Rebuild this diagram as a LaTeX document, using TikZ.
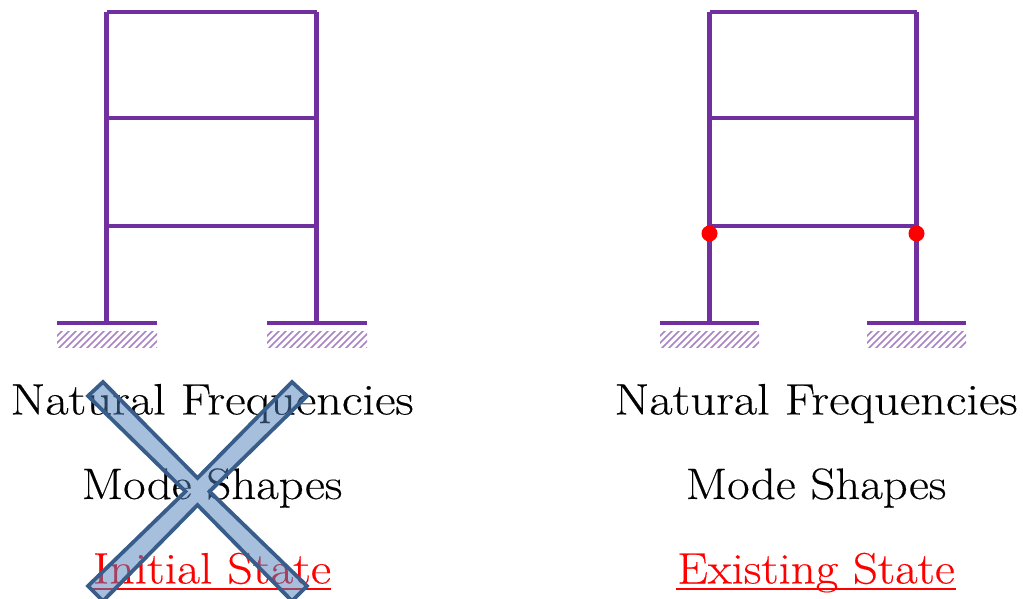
\documentclass[tikz,border=0pt]{standalone}
\usepackage{graphicx}
\usepackage{fontspec}
\setmainfont{Latin Modern Roman}
\definecolor{framepurple}{HTML}{7030A0}
\definecolor{xfill}{HTML}{4F81BD}
\definecolor{xline}{HTML}{385D8A}
\tikzset{
  member/.style={draw=framepurple,line width=4.2pt,line cap=butt},
  hatchline/.style={draw=framepurple!60,line width=1.7pt},
  label/.style={font=\fontsize{44}{50}\selectfont\addfontfeature{FakeBold=0.3},anchor=base,inner sep=0pt,text=black},
  redlabel/.style={label,text=red},
  hinge/.style={circle,fill=red,inner sep=0pt,minimum size=16pt},
  ruleline/.style={draw=red,line width=2pt},
}
\newcommand{\hatchbox}[2]{%
  \begin{scope}
    \clip (#1,331) rectangle (#2,347);
    \foreach \k in {0,7,...,130}{
      \draw[hatchline] ({#1-20+\k},349) -- ({#1+\k},329);
    }
  \end{scope}}
\newcommand{\frameat}[3]{%
  \coordinate (#3tl) at (#1,12);
  \coordinate (#3tr) at (#2,12);
  \coordinate (#3ml) at (#1,118);
  \coordinate (#3mr) at (#2,118);
  \coordinate (#3ll) at (#1,226);
  \coordinate (#3lr) at (#2,226);
  \coordinate (#3bl) at (#1,323);
  \coordinate (#3br) at (#2,323);
  \draw[member] (#3bl) -- (#3tl);
  \draw[member] (#3br) -- (#3tr);
  \draw[member] (#3tl) -- (#3tr);
  \draw[member] (#3ml) -- (#3mr);
  \draw[member] (#3ll) -- (#3lr);
}
\begin{document}
\begin{tikzpicture}[x=1pt,y=-1pt]
  \clip (0,0) rectangle (1023,598);
  \fill[white] (0,0) rectangle (1023,598);

  % Left frame
  \frameat{106.5}{316.5}{a}
  \coordinate (ag1a) at (57,323); \coordinate (ag1b) at (157,323);
  \coordinate (ag2a) at (267,323); \coordinate (ag2b) at (367,323);
  \draw[member] (ag1a) -- (ag1b);
  \draw[member] (ag2a) -- (ag2b);
  \hatchbox{57}{157}
  \hatchbox{267}{367}

  % Right frame
  \frameat{709.5}{916.5}{b}
  \coordinate (bg1a) at (660,323); \coordinate (bg1b) at (759,323);
  \coordinate (bg2a) at (867,323); \coordinate (bg2b) at (966,323);
  \draw[member] (bg1a) -- (bg1b);
  \draw[member] (bg2a) -- (bg2b);
  \hatchbox{660}{759}
  \hatchbox{867}{966}
  \node[hinge] (h1) at (709.5,233.5) {};
  \node[hinge] (h2) at (916.5,233.5) {};

  % Labels
  \node[label] (nf1) at (212,414.5) {\scalebox{1.145}[1]{Natural Frequencies}};
  \node[label] (ms1) at (212,499) {\scalebox{1.11}[1]{Mode Shapes}};
  \node[redlabel] (st1) at (212,583.5) {\scalebox{1.13}[1]{Initial State}};
  \node[label] (nf2) at (816,414.5) {\scalebox{1.145}[1]{Natural Frequencies}};
  \node[label] (ms2) at (816,499) {\scalebox{1.11}[1]{Mode Shapes}};
  \node[redlabel] (st2) at (816,583.5) {\scalebox{1.11}[1]{Existing State}};
  \coordinate (u1a) at (93,589); \coordinate (u1b) at (331,589);
  \coordinate (u2a) at (676,589); \coordinate (u2b) at (956,589);
  \draw[ruleline] (u1a) -- (u1b);
  \draw[ruleline] (u2a) -- (u2b);

  % Cross
  \draw[draw=xline,line width=3.8pt,line join=miter,fill=xfill,fill opacity=0.5]
    (103,382) -- (197.5,478) -- (292,382) -- (307,396) -- (209.5,491.5)
    -- (307,586) -- (292,601) -- (197.5,505) -- (103,601) -- (88,586)
    -- (185.5,491.5) -- (88,396) -- cycle;
\end{tikzpicture}
\end{document}
